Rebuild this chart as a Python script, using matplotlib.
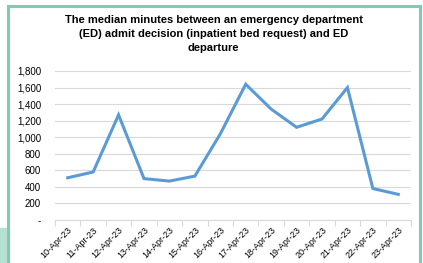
import matplotlib.pyplot as plt
from matplotlib.patches import Rectangle
from matplotlib.lines import Line2D

plt.rcParams['font.family'] = ['Liberation Sans', 'DejaVu Sans']

# data
dates = ["10-Apr-23", "11-Apr-23", "12-Apr-23", "13-Apr-23", "14-Apr-23",
         "15-Apr-23", "16-Apr-23", "17-Apr-23", "18-Apr-23", "19-Apr-23",
         "20-Apr-23", "21-Apr-23", "22-Apr-23", "23-Apr-23"]
minutes = [510, 580, 1270, 500, 470, 530, 1040, 1640, 1340, 1120,
           1220, 1600, 380, 310]
yticks = [0, 200, 400, 600, 800, 1000, 1200, 1400, 1600, 1800]
ylabels = ["-"] + [f"{v:,}" for v in yticks[1:]]

fig = plt.figure(figsize=(4.23, 2.63), dpi=100)
W, H = 423, 263

# green frame around the chart, plus the bit of fill bottom-left
green = "#7fcbb0"
fig.patches.append(Rectangle((0, 0), 7 / W, 35 / H, transform=fig.transFigure,
                             color="#b6e0d2", zorder=0))
fig.lines.append(Line2D([8 / W, 8 / W], [0, 1 - 6 / H], transform=fig.transFigure,
                        color=green, lw=2.2))
fig.lines.append(Line2D([8 / W, 420 / W], [1 - 6 / H, 1 - 6 / H], transform=fig.transFigure,
                        color=green, lw=2.2))
fig.lines.append(Line2D([420 / W, 420 / W], [0, 1 - 6 / H], transform=fig.transFigure,
                        color=green, lw=2.2))

ax = fig.add_axes([55 / W, 1 - 220 / H, 356 / W, 149 / H])
x = list(range(len(dates)))
ax.plot(x, minutes, color="#5b9bd5", lw=2.2, solid_joinstyle="miter")

ax.set_xlim(-0.5, len(dates) - 0.5)
ax.set_ylim(0, 1800)
ax.set_yticks(yticks)
ax.set_yticklabels(ylabels)
ax.yaxis.grid(True, color="#d9d9d9", lw=0.8)
ax.set_axisbelow(True)

ax.set_xticks([i - 0.5 for i in range(len(dates) + 1)], minor=False)
ax.set_xticklabels([])
ax.set_xticks(x, minor=True)
ax.set_xticklabels(dates, minor=True, rotation=45, ha="right", rotation_mode="anchor")
ax.tick_params(axis="x", which="major", length=4, color="#d9d9d9")
ax.tick_params(axis="x", which="minor", length=0, pad=4, labelsize=6.5)
ax.tick_params(axis="y", length=0, labelsize=7, pad=10)

for s in ["top", "right", "left"]:
    ax.spines[s].set_visible(False)
ax.spines["bottom"].set_color("#d9d9d9")

fig.text(0.505, 1 - 34 / H,
         "The median minutes between an emergency department\n"
         "(ED) admit decision (inpatient bed request) and ED\ndeparture",
         ha="center", va="center", fontsize=8, fontweight="bold", linespacing=1.45)

fig.savefig("out.png", dpi=100)
